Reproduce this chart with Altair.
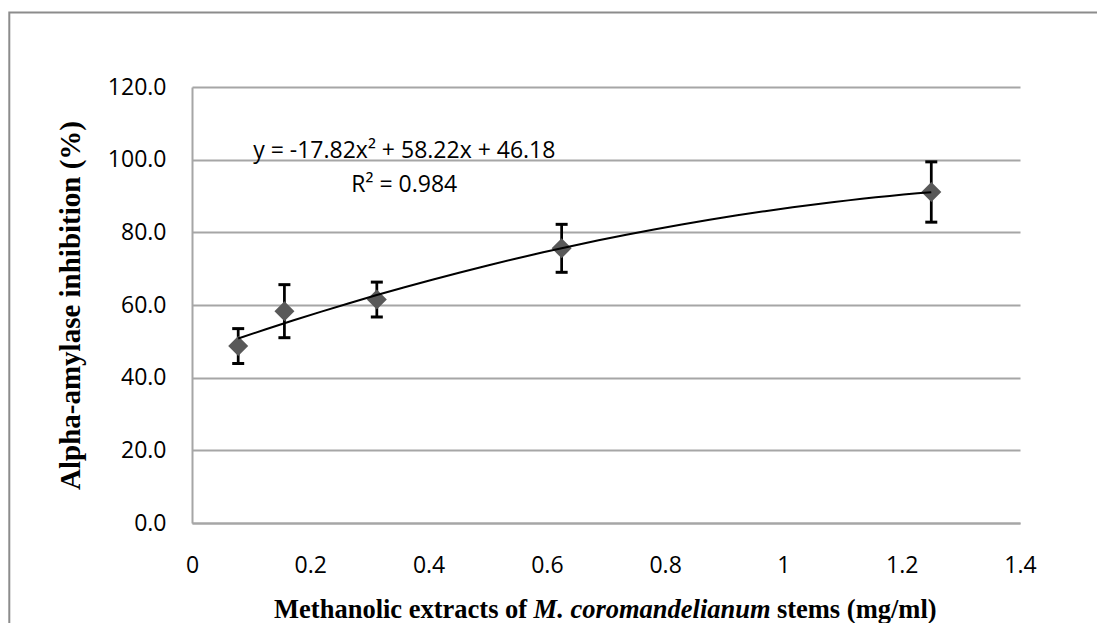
import altair as alt
import pandas as pd

# ---- data ----
conc = [0.078125, 0.15625, 0.3125, 0.625, 1.25]          # mg/ml
inhibition = [48.7, 58.3, 61.5, 75.6, 91.1]              # %
sd = [4.8, 7.3, 4.8, 6.6, 8.3]                           # error bar half-length
x_ticks = [0, 0.2, 0.4, 0.6, 0.8, 1, 1.2, 1.4]
y_ticks = [0, 20, 40, 60, 80, 100, 120]
eq_text = "y = -17.82x\u00b2 + 58.22x + 46.18"
r2_text = "R\u00b2 = 0.984"
y_title = "Alpha-amylase inhibition (%)"
x_title_parts = ["Methanolic extracts of", "M. coromandelianum", "stems (mg/ml)"]

df = pd.DataFrame({
    "x": conc,
    "y": inhibition,
    "lo": [v - e for v, e in zip(inhibition, sd)],
    "hi": [v + e for v, e in zip(inhibition, sd)],
})
one = pd.DataFrame({"k": [0]})

W, H = 828, 436
GRID = "#a6a6a6"
LABEL_FONT = "Open Sans"
SERIF = "Liberation Serif"

xs = alt.Scale(domain=[0, 1.4], nice=False, zero=False)
ys = alt.Scale(domain=[0, 120], nice=False)

xaxis = alt.Axis(values=x_ticks, format="~g", title=None, grid=False, ticks=False,
                 tickSize=0, labelPadding=42, labelBaseline="middle",
                 labelFont=LABEL_FONT, labelFontSize=23, labelColor="black",
                 labelFlush=False, domainColor=GRID, domainWidth=2)
yaxis = alt.Axis(values=y_ticks, format=".1f", title=y_title, grid=True,
                 gridColor=GRID, gridWidth=2, ticks=False, tickSize=0,
                 labelPadding=26, labelFont=LABEL_FONT, labelFontSize=23,
                 labelColor="black", labelFlush=False, domainColor=GRID,
                 domainWidth=2, titleFont=SERIF, titleFontWeight="bold",
                 titleFontSize=29, titleColor="black", titleAngle=270,
                 titleX=-121.5, titleY=218, titleBaseline="middle", titleAlign="center")

X = alt.X("x:Q", scale=xs, axis=xaxis)
Y = alt.Y("y:Q", scale=ys, axis=yaxis)

base = alt.Chart(df)

bars = base.mark_rule(color="black", strokeWidth=2.75, opacity=1).encode(
    x=alt.X("x:Q", scale=xs), y=alt.Y("lo:Q", scale=ys), y2="hi:Q")
cap_lo = base.mark_tick(orient="horizontal", size=12, thickness=3, color="black", opacity=1).encode(
    x=alt.X("x:Q", scale=xs), y=alt.Y("lo:Q", scale=ys))
cap_hi = base.mark_tick(orient="horizontal", size=12, thickness=3, color="black", opacity=1).encode(
    x=alt.X("x:Q", scale=xs), y=alt.Y("hi:Q", scale=ys))
points = base.mark_point(shape="diamond", filled=True, size=400, color="#595959",
                         opacity=1, strokeWidth=0).encode(x=X, y=Y)
fit = base.transform_regression("x", "y", method="poly", order=2).mark_line(
    color="black", strokeWidth=2).encode(x=alt.X("x:Q", scale=xs), y=alt.Y("y:Q", scale=ys))

ann = alt.Chart(one)
eq = ann.mark_text(align="center", baseline="alphabetic", font=LABEL_FONT, fontSize=23,
                   color="black").encode(x=alt.value(212.3), y=alt.value(71.4),
                                         text=alt.value(eq_text))
r2 = ann.mark_text(align="center", baseline="alphabetic", font=LABEL_FONT, fontSize=23,
                   color="black").encode(x=alt.value(212.3), y=alt.value(105.1),
                                         text=alt.value(r2_text))

TY = 531.4
xt1 = ann.mark_text(align="right", baseline="alphabetic", font=SERIF, fontSize=26.5,
                    fontWeight="bold", color="black").encode(
    x=alt.value(335.2), y=alt.value(TY), text=alt.value(x_title_parts[0]))
xt2 = ann.mark_text(align="center", baseline="alphabetic", font=SERIF, fontSize=26.5,
                    fontWeight="bold", fontStyle="italic", color="black").encode(
    x=alt.value(460.1), y=alt.value(TY), text=alt.value(x_title_parts[1]))
xt3 = ann.mark_text(align="left", baseline="alphabetic", font=SERIF, fontSize=26.5,
                    fontWeight="bold", color="black").encode(
    x=alt.value(584.9), y=alt.value(TY), text=alt.value(x_title_parts[2]))

frame = ann.mark_rect(fill="transparent", stroke="#8c8c8c", strokeWidth=2).encode(
    x=alt.value(-182.7), y=alt.value(-74.6), x2=alt.value(1000), y2=alt.value(700))

chart = alt.layer(frame, bars, cap_lo, cap_hi, points, fit, eq, r2, xt1, xt2, xt3).properties(
    width=W, height=H,
    padding={"left": 184, "top": 79, "right": 77, "bottom": 100},
    autosize=alt.AutoSizeParams(type="none"),
    background="white",
).configure_view(stroke="transparent")

chart.save("out.html", embed_options={"renderer": "svg", "actions": False})
